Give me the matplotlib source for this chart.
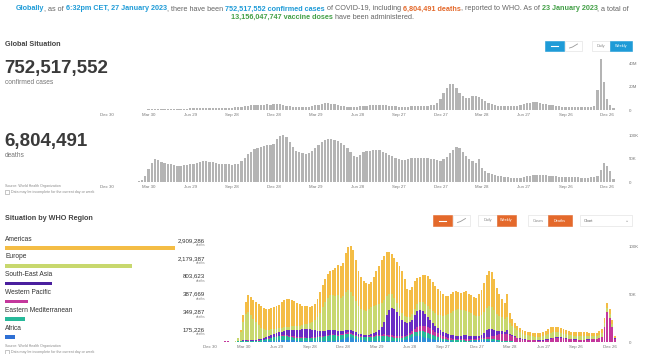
import datetime as dt

import matplotlib.pyplot as plt
from matplotlib.lines import Line2D
from matplotlib.patches import Rectangle
from matplotlib.transforms import blended_transform_factory

plt.rcParams['font.family'] = ['Liberation Sans', 'DejaVu Sans']

# weekly global cases, millions (weeks from 30 Dec 2019)
cases = [0, 0, 0.001, 0.002, 0.015, 0.02, 0.03, 0.01, 0.01, 0.02,
         0.05, 0.15, 0.3, 0.45, 0.55, 0.55, 0.55, 0.56, 0.6, 0.63,
         0.68, 0.75, 0.85, 0.95, 1.05, 1.2, 1.35, 1.5, 1.65, 1.8,
         1.8, 1.8, 1.8, 1.8, 1.8, 1.85, 1.95, 2.0, 2.05, 2.1,
         2.3, 2.5, 2.8, 3.2, 3.6, 4.0, 4.1, 4.1, 4.3, 4.6,
         4.8, 4.5, 4.8, 5.0, 4.8, 4.2, 3.7, 3.2, 2.7, 2.5,
         2.5, 2.6, 2.7, 3.0, 3.5, 4.0, 4.5, 5.2, 5.7, 5.7,
         5.5, 4.9, 4.1, 3.6, 3.1, 2.7, 2.6, 2.6, 2.9, 3.3,
         3.6, 3.9, 4.2, 4.4, 4.5, 4.4, 4.3, 4.0, 3.6, 3.3,
         3.1, 2.9, 2.9, 2.9, 3.0, 3.1, 3.3, 3.5, 3.7, 3.8,
         3.8, 4.2, 4.6, 6.0, 9.5, 15, 19.5, 22.5, 23.0, 19.0,
         15.0, 12.0, 10.5, 10.5, 12.0, 12.5, 11.5, 9.5, 7.5, 5.8,
         4.8, 4.3, 3.8, 3.6, 3.5, 3.4, 3.4, 3.5, 3.8, 4.3,
         5.0, 5.8, 6.5, 6.8, 6.8, 6.3, 5.5, 5.0, 4.5, 4.0,
         3.4, 3.1, 2.9, 2.8, 2.8, 3.0, 3.0, 2.9, 2.7, 2.5,
         2.6, 3.0, 3.8, 17, 44, 24, 9.5, 4.5, 1.5]

# weekly deaths by WHO region, thousands
africa = [0, 0, 0, 0, 0, 0, 0, 0, 0, 0,
          0, 0.01, 0.03, 0.1, 0.15, 0.2, 0.25, 0.3, 0.35, 0.4,
          0.5, 0.6, 0.7, 0.8, 1.0, 1.2, 1.4, 1.7, 2.0, 2.3,
          2.4, 2.3, 2.1, 1.8, 1.5, 1.3, 1.1, 1.0, 0.9, 0.8,
          0.8, 0.8, 0.8, 0.8, 0.8, 0.8, 0.9, 1.0, 1.2, 1.5,
          2.0, 2.6, 3.5, 4.5, 5.2, 5.0, 4.3, 3.5, 2.7, 2.0,
          1.6, 1.3, 1.1, 1.0, 0.9, 0.9, 0.9, 0.8, 0.8, 0.8,
          0.8, 0.8, 0.9, 1.0, 1.2, 1.6, 2.2, 3.0, 4.0, 5.0,
          5.8, 6.0, 5.8, 5.2, 4.6, 4.0, 3.5, 3.0, 2.5, 2.0,
          1.6, 1.2, 1.0, 0.8, 0.6, 0.5, 0.4, 0.4, 0.4, 0.4,
          0.4, 0.5, 0.7, 1.0, 1.3, 1.6, 1.8, 1.7, 1.5, 1.2,
          1.0, 0.8, 0.6, 0.5, 0.4, 0.3, 0.3, 0.2, 0.2, 0.2,
          0.2, 0.2, 0.2, 0.25, 0.3, 0.3, 0.3, 0.3, 0.3, 0.25,
          0.2, 0.2, 0.2, 0.2, 0.2, 0.2, 0.2, 0.2, 0.2, 0.2,
          0.15, 0.15, 0.15, 0.15, 0.1, 0.1, 0.1, 0.1, 0.1, 0.1,
          0.1, 0.1, 0.1, 0.1, 0.1, 0.1, 0.1, 0.1, 0.05]
east_med = [0, 0, 0, 0, 0, 0, 0, 0, 0, 0.05,
            0.3, 0.7, 0.9, 1.0, 1.0, 0.9, 0.8, 0.8, 0.9, 1.0,
            1.3, 1.7, 2.2, 2.8, 3.3, 3.7, 4.0, 4.2, 4.2, 4.0,
            3.7, 3.4, 3.1, 2.9, 2.8, 2.8, 2.9, 3.0, 3.1, 3.2,
            3.4, 3.7, 4.0, 4.4, 4.9, 5.4, 5.8, 6.0, 5.8, 5.4,
            4.8, 4.3, 3.9, 3.6, 3.4, 3.2, 3.0, 2.9, 2.9, 3.0,
            3.2, 3.5, 3.9, 4.3, 4.7, 5.1, 5.4, 5.5, 5.4, 5.1,
            4.7, 4.2, 3.8, 3.4, 3.0, 2.8, 2.7, 2.8, 3.1, 3.6,
            4.3, 5.0, 5.6, 6.0, 6.1, 5.8, 5.2, 4.5, 3.8, 3.2,
            2.7, 2.3, 2.0, 1.8, 1.6, 1.5, 1.4, 1.3, 1.2, 1.2,
            1.1, 1.0, 1.0, 0.9, 0.9, 0.9, 1.0, 1.3, 1.7, 2.1,
            2.3, 2.2, 1.9, 1.5, 1.1, 0.8, 0.6, 0.5, 0.4, 0.3,
            0.2, 0.2, 0.2, 0.2, 0.2, 0.2, 0.2, 0.2, 0.2, 0.2,
            0.2, 0.3, 0.3, 0.3, 0.3, 0.3, 0.3, 0.2, 0.2, 0.2,
            0.2, 0.2, 0.2, 0.2, 0.2, 0.2, 0.2, 0.2, 0.15, 0.15,
            0.15, 0.15, 0.15, 0.15, 0.15, 0.15, 0.15, 0.15, 0.05]
west_pac = [0, 0, 0, 0.02, 0.15, 0.3, 0.6, 0.7, 0.3, 0.2,
            0.1, 0.1, 0.2, 0.3, 0.4, 0.5, 0.4, 0.3, 0.3, 0.3,
            0.3, 0.3, 0.3, 0.3, 0.4, 0.4, 0.5, 0.6, 0.7, 0.8,
            0.9, 1.0, 1.1, 1.1, 1.0, 0.9, 0.8, 0.8, 0.7, 0.7,
            0.6, 0.6, 0.6, 0.6, 0.6, 0.6, 0.7, 0.8, 0.9, 0.9,
            1.0, 1.1, 1.2, 1.4, 1.6, 1.7, 1.6, 1.4, 1.2, 1.0,
            0.9, 0.8, 0.8, 0.9, 1.0, 1.1, 1.3, 1.5, 1.7, 1.9,
            2.0, 2.0, 1.9, 1.8, 1.7, 1.7, 1.8, 2.0, 2.4, 3.0,
            3.8, 4.6, 5.3, 5.8, 6.0, 5.9, 5.6, 5.1, 4.6, 4.0,
            3.4, 2.9, 2.4, 2.0, 1.8, 1.6, 1.5, 1.4, 1.4, 1.4,
            1.5, 1.6, 1.6, 1.5, 1.4, 1.3, 1.3, 1.4, 1.6, 2.0,
            2.6, 3.5, 4.8, 6.2, 7.3, 7.8, 7.5, 6.6, 5.4, 4.3,
            3.4, 2.7, 2.2, 1.8, 1.5, 1.3, 1.2, 1.1, 1.0, 1.0,
            1.1, 1.4, 2.0, 2.8, 3.4, 3.7, 3.8, 3.7, 3.4, 3.0,
            2.6, 2.3, 2.0, 1.8, 1.7, 1.7, 1.8, 2.0, 2.2, 2.4,
            2.6, 3.0, 3.5, 5.0, 15, 31, 25, 15, 3.5]
se_asia = [0, 0, 0, 0, 0, 0, 0, 0, 0, 0,
           0.02, 0.05, 0.15, 0.3, 0.5, 0.7, 0.8, 0.9, 1.0, 1.2,
           1.4, 1.7, 2.0, 2.4, 3.0, 3.2, 3.3, 3.6, 4.0, 4.6,
           5.5, 6.0, 6.7, 7.2, 7.6, 8.1, 8.6, 9.0, 9.0, 8.6,
           8.0, 7.3, 6.6, 5.9, 5.4, 5.0, 4.8, 4.6, 4.5, 4.3,
           4.0, 3.6, 3.3, 3.0, 2.8, 2.6, 2.4, 2.2, 2.0, 1.9,
           1.9, 1.9, 2.0, 2.1, 2.4, 3.0, 4.5, 7.5, 13, 20,
           26, 29, 28, 25, 21, 17, 14, 12, 11, 12,
           14, 16.5, 17, 15.5, 13, 10.5, 8.5, 7, 6, 5.3,
           4.8, 4.3, 3.8, 3.4, 3.3, 3.3, 3.5, 3.5, 3.3, 4.5,
           4.0, 3.6, 3.2, 2.9, 2.7, 2.7, 3.0, 5.0, 7.5, 8.5,
           8.0, 6.5, 4.0, 3.0, 2.5, 2.0, 4.5, 1.5, 1.2, 1.0,
           0.9, 0.8, 0.7, 0.6, 0.6, 0.6, 0.6, 0.6, 0.6, 0.6,
           0.6, 0.8, 0.8, 0.8, 0.8, 0.8, 0.8, 0.8, 0.7, 0.7,
           0.7, 0.7, 0.7, 0.7, 0.5, 0.5, 0.5, 0.5, 0.5, 0.5,
           0.5, 0.4, 0.4, 0.4, 0.4, 0.4, 0.4, 0.4, 0.1]
europe = [0, 0, 0, 0, 0, 0, 0, 0, 0, 0.05,
          0.8, 3.0, 9.0, 19, 27, 29, 26, 22, 18, 14.5,
          11.5, 9.5, 7.5, 6.5, 5.5, 5.0, 4.5, 4.2, 4.0, 3.8,
          3.6, 3.5, 3.4, 3.5, 3.6, 3.9, 4.3, 4.8, 5.5, 6.5,
          8.0, 10.5, 14, 19, 25, 30.5, 34, 36.5, 37, 36.5,
          37, 35, 36, 40, 42, 40, 37, 33, 29, 26.5,
          25.5, 25.5, 26.5, 28, 29, 29, 27.5, 25.5, 23, 20,
          17, 14.5, 12, 10, 8.5, 7.5, 6.5, 6.0, 5.8, 6.0,
          6.5, 7.3, 8.2, 9.2, 10.2, 11.2, 12.0, 12.8, 13.5, 14.3,
          15.5, 17, 19, 21, 23.5, 25.5, 27, 27.5, 27, 26.5,
          26, 25, 24, 22.5, 21, 21, 21.5, 22.5, 23.5, 23.5,
          22.5, 20.5, 18, 16, 14.5, 13.5, 13, 11.5, 10, 8.5,
          7.5, 6.5, 5.5, 5.0, 4.5, 4.0, 3.5, 3.3, 3.2, 3.4,
          3.9, 4.5, 5.2, 5.7, 5.8, 5.6, 5.2, 4.8, 4.4, 4.0,
          3.7, 3.5, 3.5, 3.6, 3.8, 4.0, 4.0, 3.8, 3.5, 3.2,
          3.0, 3.0, 3.2, 3.6, 4.0, 4.0, 3.8, 3.0, 1.0]
americas = [0, 0, 0, 0, 0, 0, 0, 0, 0, 0.02,
            0.1, 0.5, 2, 7.3, 13, 17.7, 18.7, 19.7, 21.5, 22.6,
            23, 22.2, 22.3, 22.2, 22.8, 23.5, 24.3, 24.7, 27.1, 28.5,
            28.9, 28.8, 27.6, 26.5, 24.5, 23, 20.3, 19.4, 18.8, 17.2,
            17.2, 17.1, 19, 21.3, 23.3, 23.7, 24.8, 25.1, 26.6, 29.4,
            32.2, 33.4, 35.1, 40.5, 45, 48.5, 48.7, 43, 37.2, 33.6,
            30.9, 29, 26.7, 26.7, 30, 34.9, 40.4, 45.2, 46.1, 46.2,
            43.5, 41.5, 41.4, 42.8, 44.6, 43.4, 38.8, 30.2, 28.7, 28.4,
            29.6, 27.6, 26.1, 28.3, 30.1, 31.6, 31.2, 30.6, 28.6, 27.2,
            25, 22.3, 19.8, 19, 19.2, 19.6, 19.2, 17.9, 17.7, 18,
            20, 18.3, 18.5, 18.2, 18.7, 22.5, 26.4, 30.1, 34.2, 37.7,
            36.6, 32.5, 27.7, 22.8, 19.2, 16, 24, 9.7, 6.8, 5.7,
            4.8, 4.6, 4.2, 4.1, 3.9, 3.6, 3.7, 3.5, 3.7, 4.0,
            4.5, 4.8, 5.5, 5.7, 5.5, 5.4, 5.2, 5.3, 5.1, 4.9,
            4.65, 4.15, 3.95, 3.55, 3.7, 3.5, 3.4, 3.4, 3.05, 3.0,
            3.0, 3.2, 3.8, 4.6, 5.5, 5.5, 4.8, 4.3, 1.3]

regions = ['Americas', 'Europe', 'South-East Asia', 'Western Pacific',
           'Eastern Mediterranean', 'Africa']
region_totals = [2909286, 2179387, 803623, 387669, 349287, 175226]
region_colors = ['#F4BD45', '#C8D86E', '#4A1F9E', '#C4379C', '#27B99A', '#2F70D4']
tick_labels = ['Dec 30', 'Mar 30', 'Jun 29', 'Sep 28', 'Dec 28', 'Mar 29', 'Jun 28',
               'Sep 27', 'Dec 27', 'Mar 28', 'Jun 27', 'Sep 26', 'Dec 26']

start = dt.datetime(2019, 12, 30)
weeks = [start + dt.timedelta(days=7 * i) for i in range(len(cases))]
tick_dates = [start + dt.timedelta(days=91 * k) for k in range(len(tick_labels))]
deaths = [a + b + c + d + e + f for a, b, c, d, e, f in
          zip(americas, europe, se_asia, west_pac, east_med, africa)]

W, H = 645, 354
BLUE, ORANGE, GREEN, GREY = '#1E9BD7', '#E4692B', '#43A047', '#666666'

fig = plt.figure(figsize=(6.45, 3.54), dpi=100)
renderer = fig.canvas.get_renderer()


def box(x0, y0, x1, y1):
    return [x0 / W, 1 - y1 / H, (x1 - x0) / W, (y1 - y0) / H]


def style(ax, yticks, ylabels):
    for s in ax.spines.values():
        s.set_visible(False)
    ax.yaxis.tick_right()
    ax.set_yticks(yticks)
    ax.set_yticklabels(ylabels)
    ax.set_xticks(tick_dates)
    ax.set_xticklabels(tick_labels)
    ax.tick_params(length=0, labelsize=3.2, labelcolor='#777777', pad=2.5)
    ax.patch.set_alpha(0)


def text_width(s, fs, bold=False):
    t = fig.text(0, 0, s, fontsize=fs, fontweight='bold' if bold else 'normal')
    w = t.get_window_extent(renderer).width
    t.remove()
    return w


# header line with coloured pieces
def rich(y, parts, fs, draw=True):
    sp = text_width('a a', fs) - text_width('aa', fs)
    widths = [text_width(s.strip(), fs, b) for s, c, b in parts]
    gaps = [sp if s.startswith(' ') else 0 for s, c, b in parts]
    total = sum(widths) + sum(gaps)
    if draw:
        x = (W - total) / 2
        for (s, c, b), w, g in zip(parts, widths, gaps):
            x += g
            fig.text(x / W, 1 - y / H, s.strip(), fontsize=fs, color=c,
                     fontweight='bold' if b else 'normal', va='center')
            x += w
    return total


line1 = [("Globally", BLUE, True), (", as of", GREY, False),
         (" 6:32pm CET, 27 January 2023", BLUE, True), (", there have been", GREY, False),
         (" 752,517,552 confirmed cases", BLUE, True), (" of COVID-19, including", GREY, False),
         (" 6,804,491 deaths", ORANGE, True), (", reported to WHO. As of", GREY, False),
         (" 23 January 2023", GREEN, True), (", a total of", GREY, False)]
line2 = [("13,156,047,747 vaccine doses", GREEN, True), (" have been administered.", GREY, False)]
fs = 5.0 * 620 / rich(9, line1, 5.0, draw=False)
rich(9, line1, fs)
rich(17.5, line2, fs)

# global situation
fig.text(5 / W, 1 - 44 / H, 'Global Situation', fontsize=5.2, fontweight='bold',
         color='#444444', va='center')
fig.text(4 / W, 1 - 68 / H, '752,517,552', fontsize=13.5, fontweight='bold',
         color='#3a3a3a', va='center')
fig.text(5 / W, 1 - 83 / H, 'confirmed cases', fontsize=4.8, color='#777777', va='center')
fig.text(4 / W, 1 - 141 / H, '6,804,491', fontsize=13.5, fontweight='bold',
         color='#3a3a3a', va='center')
fig.text(5 / W, 1 - 156 / H, 'deaths', fontsize=4.8, color='#777777', va='center')

ax_c = fig.add_axes(box(100, 55, 625, 110))
ax_c.bar(weeks, cases, width=dt.timedelta(days=5), color='#b4b4b4', linewidth=0)
ax_c.set_xlim(start - dt.timedelta(days=15), start + dt.timedelta(days=1131))
ax_c.set_ylim(0, 47.8)
style(ax_c, [0, 20, 40], ['0', '20M', '40M'])

ax_d = fig.add_axes(box(100, 128, 625, 182))
ax_d.bar(weeks, deaths, width=dt.timedelta(days=5), color='#b4b4b4', linewidth=0)
ax_d.set_xlim(start - dt.timedelta(days=15), start + dt.timedelta(days=1131))
ax_d.set_ylim(0, 117)
style(ax_d, [0, 50, 100], ['0', '50K', '100K'])

# situation by region
fig.text(5 / W, 1 - 218 / H, 'Situation by WHO Region', fontsize=5.2, fontweight='bold',
         color='#444444', va='center')

ax_r = fig.add_axes(box(200, 240, 625, 342))
bottom = [0] * len(weeks)
for vals, color in zip([africa, east_med, west_pac, se_asia, europe, americas],
                       ['#2F8FD8', '#27B99A', '#C4379C', '#6A2CC4', '#C8D86E', '#F4BD45']):
    ax_r.bar(weeks, vals, width=dt.timedelta(days=5.3), bottom=bottom, color=color, linewidth=0)
    bottom = [b + v for b, v in zip(bottom, vals)]
ax_r.set_xlim(start - dt.timedelta(days=27), start + dt.timedelta(days=1134))
ax_r.set_ylim(0, 107)
style(ax_r, [0, 50, 100], ['0', '50K', '100K'])

ax_l = fig.add_axes(box(5, 230, 205, 345))
ax_l.barh(range(len(regions)), region_totals, height=0.2, color=region_colors)
ax_l.set_xlim(0, 2909286 * 200 / 170)
ax_l.set_ylim(5.45, -1.01)
ax_l.axis('off')
tr = blended_transform_factory(ax_l.transAxes, ax_l.transData)
for i, (name, val) in enumerate(zip(regions, region_totals)):
    ax_l.text(0, i - 0.5, name, fontsize=4.8, color='#333333', va='center')
    ax_l.text(1.0, i - 0.42, f'{val:,}', fontsize=4.4, color='#333333', va='center',
              ha='right', transform=tr)
    ax_l.text(1.0, i - 0.15, 'deaths', fontsize=2.3, color='#888888', va='center',
              ha='right', transform=tr)

# source notes
for y in (186, 346):
    fig.text(5 / W, 1 - y / H, 'Source: World Health Organization', fontsize=2.6,
             color='#888888', va='center')
    fig.text(11 / W, 1 - (y + 5.5) / H, 'Data may be incomplete for the current day or week',
             fontsize=2.6, color='#888888', va='center')
    fig.add_artist(Rectangle((5 / W, 1 - (y + 7.5) / H), 4 / W, 4 / H, fill=False,
                             edgecolor='#999999', linewidth=0.4, transform=fig.transFigure))


# buttons
def button(x0, x1, y0, y1, label, fill, tcolor, edge=None):
    fig.add_artist(Rectangle((x0 / W, 1 - y1 / H), (x1 - x0) / W, (y1 - y0) / H,
                             facecolor=fill, edgecolor=edge or fill, linewidth=0.4,
                             transform=fig.transFigure))
    if label:
        fig.text((x0 + x1) / 2 / W, 1 - (y0 + y1) / 2 / H, label, fontsize=2.8,
                 color=tcolor, ha='center', va='center')


def line_icon(x, y, color):
    fig.add_artist(Line2D([(x - 4) / W, (x - 1) / W, (x + 4) / W],
                          [1 - (y + 2) / H, 1 - (y + 1) / H, 1 - (y - 2) / H],
                          color=color, linewidth=0.6, transform=fig.transFigure))


button(545, 564, 41, 51, '', BLUE, 'white')
fig.add_artist(Line2D([551 / W, 558 / W], [1 - 46 / H] * 2, color='white', linewidth=0.8,
                      transform=fig.transFigure))
button(565, 582, 41, 51, '', 'white', GREY, '#dddddd')
line_icon(573.5, 46, '#999999')
button(592, 610, 41, 51, 'Daily', 'white', '#888888', '#dddddd')
button(610, 632, 41, 51, 'Weekly', BLUE, 'white')

button(433, 452, 215, 226, '', ORANGE, 'white')
fig.add_artist(Line2D([439 / W, 446 / W], [1 - 220.5 / H] * 2, color='white', linewidth=0.8,
                      transform=fig.transFigure))
button(453, 470, 215, 226, '', 'white', GREY, '#dddddd')
line_icon(461.5, 220.5, '#999999')
button(478, 497, 215, 226, 'Daily', 'white', '#888888', '#dddddd')
button(497, 516, 215, 226, 'Weekly', ORANGE, 'white')
button(528, 548, 215, 226, 'Cases', 'white', '#888888', '#dddddd')
button(548, 572, 215, 226, 'Deaths', ORANGE, 'white')
button(580, 632, 215, 226, '', 'white', GREY, '#dddddd')
fig.text(584 / W, 1 - 220.5 / H, 'Chart', fontsize=2.8, color='#666666', va='center')
fig.text(627 / W, 1 - 220.5 / H, '⌄', fontsize=3.5, color='#999999', va='center', ha='center')

fig.savefig('out.png', dpi=100)
